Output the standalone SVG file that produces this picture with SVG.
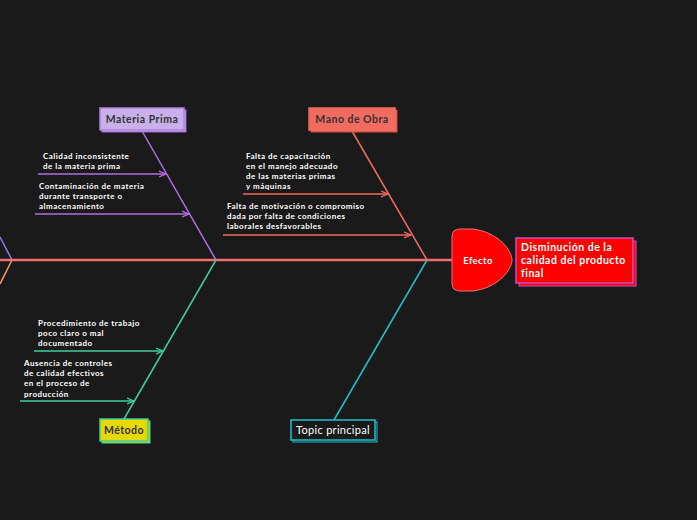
<svg xmlns="http://www.w3.org/2000/svg" width="697" height="520" viewBox="0 0 697 520">
<defs>
<style>
.t{font-family:"Lato","Noto Sans",sans-serif;font-size:8px;font-weight:bold;fill:#ffffff;letter-spacing:0.5px}
.lbl{font-family:"Lato","Noto Sans",sans-serif;font-size:10.5px;font-weight:bold;letter-spacing:0.5px}
.ln{fill:none;stroke-width:1.5}
</style>
<marker id="mP" markerWidth="8" markerHeight="8" refX="7" refY="4" orient="auto" markerUnits="userSpaceOnUse"><path d="M0,1 L7,4 L0,7" fill="none" stroke="#b36ee0" stroke-width="1.3"/></marker>
<marker id="mR" markerWidth="8" markerHeight="8" refX="7" refY="4" orient="auto" markerUnits="userSpaceOnUse"><path d="M0,1 L7,4 L0,7" fill="none" stroke="#f26b5f" stroke-width="1.3"/></marker>
<marker id="mG" markerWidth="8" markerHeight="8" refX="7" refY="4" orient="auto" markerUnits="userSpaceOnUse"><path d="M0,1 L7,4 L0,7" fill="none" stroke="#3ccf9a" stroke-width="1.3"/></marker>
</defs>
<rect width="697" height="520" fill="#1b1a1b"/>
<g id="connectors">
<line class="ln" x1="0" y1="237" x2="12" y2="260" stroke="#8c7cf0"/>
<line class="ln" x1="12" y1="260" x2="0" y2="284" stroke="#f5a06a"/>
<line x1="0" y1="260" x2="453" y2="260" stroke="#f07070" stroke-width="2.5"/>
<line class="ln" x1="142" y1="131" x2="216" y2="260" stroke="#b36ee0"/>
<line class="ln" x1="38" y1="174" x2="166" y2="174" stroke="#b36ee0" marker-end="url(#mP)"/>
<line class="ln" x1="35" y1="214" x2="189" y2="214" stroke="#b36ee0" marker-end="url(#mP)"/>
<line class="ln" x1="352" y1="131" x2="427" y2="260" stroke="#f26b5f"/>
<line class="ln" x1="243" y1="194" x2="388" y2="194" stroke="#f26b5f" marker-end="url(#mR)"/>
<line class="ln" x1="223" y1="235" x2="411" y2="235" stroke="#f26b5f" marker-end="url(#mR)"/>
<line class="ln" x1="216" y1="260" x2="124" y2="419" stroke="#3ccf9a"/>
<line class="ln" x1="34" y1="351" x2="163" y2="351" stroke="#3ccf9a" marker-end="url(#mG)"/>
<line class="ln" x1="20" y1="401" x2="134" y2="401" stroke="#3ccf9a" marker-end="url(#mG)"/>
<line class="ln" x1="427" y1="260" x2="334" y2="420" stroke="#1fc0cc"/>
</g>
<g id="materia-prima">
<rect x="102" y="110" width="84" height="22" fill="#c9b0ea" stroke="#9a5fd0" stroke-width="1"/>
<rect x="100" y="108" width="84" height="22" fill="#c9b0ea" stroke="#b080e0" stroke-width="1.5"/>
<text class="lbl" x="142" y="122.5" text-anchor="middle" fill="#333333">Materia Prima</text>
</g>
<g id="mp-1"><text class="t" x="43" y="159">Calidad inconsistente</text><text class="t" x="43" y="169">de la materia prima</text></g>
<g id="mp-2"><text class="t" x="39" y="189">Contaminación de materia</text><text class="t" x="39" y="199">durante transporte o</text><text class="t" x="39" y="209">almacenamiento</text></g>
<g id="mano-de-obra">
<rect x="311" y="110" width="86" height="22" fill="#f26b5f" stroke="#d04a40" stroke-width="1"/>
<rect x="309" y="108" width="86" height="22" fill="#f26b5f" stroke="#f26b5f" stroke-width="1.5"/>
<text class="lbl" x="352" y="122.5" text-anchor="middle" fill="#333333">Mano de Obra</text>
</g>
<g id="mo-1"><text class="t" x="246" y="159">Falta de capacitación</text><text class="t" x="246" y="169">en el manejo adecuado</text><text class="t" x="246" y="179">de las materias primas</text><text class="t" x="246" y="189">y máquinas</text></g>
<g id="mo-2"><text class="t" x="227" y="209">Falta de motivación o compromiso</text><text class="t" x="227" y="219">dada por falta de condiciones</text><text class="t" x="227" y="229">laborales desfavorables</text></g>
<g id="metodo">
<rect x="102" y="421" width="48" height="22" fill="#e6d800" stroke="#3ccf9a" stroke-width="1"/>
<rect x="100" y="419" width="48" height="22" fill="#e6d800" stroke="#3ccf9a" stroke-width="1.5"/>
<text class="lbl" x="124" y="433.5" text-anchor="middle" fill="#333333">Método</text>
</g>
<g id="me-1"><text class="t" x="38" y="326">Procedimiento de trabajo</text><text class="t" x="38" y="336">poco claro o mal</text><text class="t" x="38" y="346">documentado</text></g>
<g id="me-2"><text class="t" x="24" y="366">Ausencia de controles</text><text class="t" x="24" y="376">de calidad efectivos</text><text class="t" x="24" y="386">en el proceso de</text><text class="t" x="24" y="397">producción</text></g>
<g id="topic-principal">
<rect x="293" y="422" width="84" height="20" fill="#1b1a1b" stroke="#1fc0cc" stroke-width="1"/>
<rect x="291" y="420" width="84" height="20" fill="#1b1a1b" stroke="#1fc0cc" stroke-width="1.5"/>
<text x="333" y="434" text-anchor="middle" fill="#ffffff" style="font-family:Lato,'Noto Sans',sans-serif;font-size:11px;letter-spacing:0.3px">Topic principal</text>
</g>
<g id="efecto">
<path d="M460,229 L472,229 C500,232 512,252 512,260 C512,268 500,288 472,291 L460,291 Q452,291 452,283 L452,237 Q452,229 460,229 Z" fill="#ff0000" stroke="#f07070" stroke-width="1"/>
<text x="478" y="264" text-anchor="middle" fill="#ffffff" style="font-family:Lato,'Noto Sans',sans-serif;font-size:9.5px;font-weight:bold;letter-spacing:0.4px">Efecto</text>
</g>
<g id="resultado">
<rect x="519" y="241" width="117" height="45" fill="#ff0000" stroke="#c050c0" stroke-width="1"/>
<rect x="516" y="238" width="117" height="45" fill="#ff0000" stroke="#c050c0" stroke-width="1.5"/>
<text fill="#ffffff" style="font-family:Lato,'Noto Sans',sans-serif;font-size:10.5px;font-weight:bold;letter-spacing:0.5px"><tspan x="521" y="251">Disminución de la</tspan><tspan x="521" y="264">calidad del producto</tspan><tspan x="521" y="277">final</tspan></text>
</g>
</svg>
